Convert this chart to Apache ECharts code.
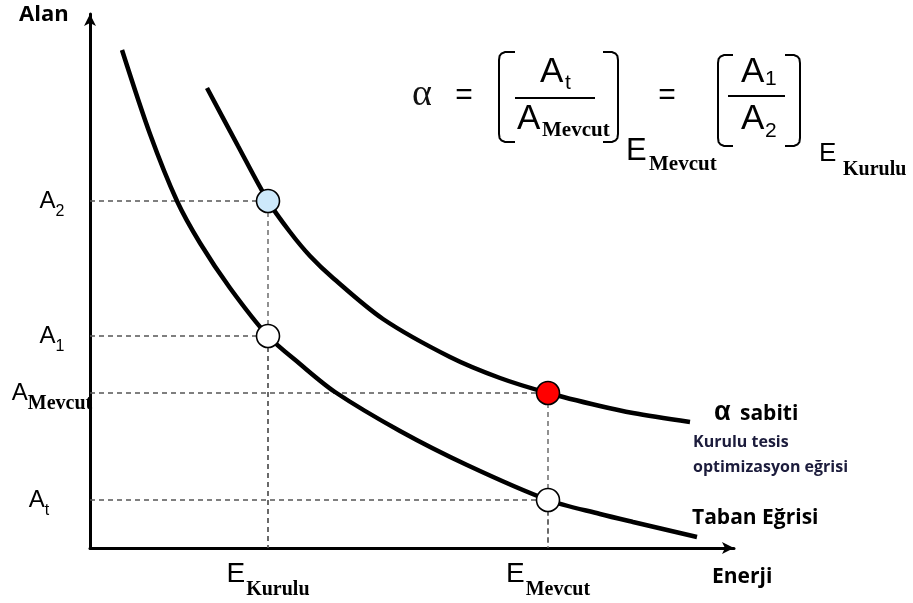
<!DOCTYPE html>
<html><head><meta charset="utf-8">
<script src="https://cdn.jsdelivr.net/npm/echarts@6/dist/echarts.min.js"></script>
<style>html,body{margin:0;padding:0;background:#fff}#c{width:913px;height:603px}</style>
</head><body><div id="c"></div>
<script>
// ---- data (in axis units) ----
const upperX = [117,148,178,200,220,243,293,360,410,458,510,543,600];
const upperY = [460,402,347,316,292,270,229,191,170,155,142,135,126];
const lowerX = [32,60,87,110,140,178,210,245,310,377,458,510,543,607];
const lowerY = [498,414,347,305,260,212,184,156,117,83,48,34,26,11];
const pointX = [178,178,458,458];
const pointY = [347,212,155,48];
const xTickValues = [178,458];
const xTickMain = ['E','E'];
const xTickSub = ['Kurulu','Mevcut'];
const yTickValues = [347,212,155,48];
const yTickMain = ['A','A','A','A'];
const yTickSub = ['2','1','Mevcut','t'];

// ---- styles ----
const pointFill = ['#cde9fb','#ffffff','#ff0000','#ffffff'];
const SANS = '"Liberation Sans", Arial, sans-serif';
const SERIF = '"Liberation Serif", "Times New Roman", serif';
const UI = '"Open Sans", "Noto Sans", sans-serif';

const zip = (a,b) => a.map((v,i)=>[v,b[i]]);
const guideSeries = pointX.map((x,i)=>({
  type:'line', silent:true, symbol:'none', z:1,
  data:[[0,pointY[i]],[x,pointY[i]],[x,0]],
  lineStyle:{color:'#555', width:1.3, type:[5,4]}
}));

function bracket(xv, xa, y1, y2){
  const d = xa > xv ? 1 : -1;
  return {type:'polyline',shape:{points:[
    [xa,y1],[xv+d*6,y1],[xv+d*2.5,y1+1.5],[xv+d*0.6,y1+4],[xv,y1+8],
    [xv,y2-8],[xv+d*0.6,y2-4],[xv+d*2.5,y2-1.5],[xv+d*6,y2],[xa,y2]]},
    style:{stroke:'#000',lineWidth:2,fill:null}};
}

const yRichKey = ['s','s','m','t'];
const chart = echarts.init(document.getElementById('c'), null, {renderer:'canvas'});
chart.setOption({
  animation:false,
  backgroundColor:'#fff',
  grid:{left:90,right:179,top:14,bottom:55,containLabel:false,outerBoundsMode:'none'},
  xAxis:{type:'value',min:0,max:644,
    axisLine:{show:true,symbol:['none','arrow'],symbolSize:[9,12],lineStyle:{color:'#000',width:3}},
    axisTick:{show:false},splitLine:{show:false},
    axisLabel:{show:true,customValues:xTickValues,margin:12,
      formatter:(v)=>{const i=xTickValues.indexOf(v);return '{e|'+xTickMain[i]+'}{s|'+xTickSub[i]+'}';},
      rich:{e:{fontFamily:SANS,fontSize:28,color:'#000',lineHeight:30,verticalAlign:'top'},
            s:{fontFamily:SERIF,fontWeight:'bold',fontSize:20,color:'#000',lineHeight:20,verticalAlign:'bottom',padding:[0,0,-10,1]}}}
  },
  yAxis:{type:'value',min:0,max:534,
    axisLine:{show:true,symbol:['none','arrow'],symbolSize:[9,12],lineStyle:{color:'#000',width:3}},
    axisTick:{show:false},splitLine:{show:false},
    axisLabel:{show:true,customValues:yTickValues,margin:38,align:'center',
      formatter:(v)=>{const i=yTickValues.indexOf(v);return '{a|'+yTickMain[i]+'}{'+yRichKey[i]+'|'+yTickSub[i]+'}';},
      rich:{a:{fontFamily:SANS,fontSize:24,color:'#000',lineHeight:26},
            s:{fontFamily:SANS,fontSize:16,color:'#000',lineHeight:16,verticalAlign:'bottom',padding:[0,0,-6,0]},
            t:{fontFamily:SANS,fontSize:16,color:'#000',lineHeight:16,verticalAlign:'bottom',padding:[0,26,-6,0]},
            m:{fontFamily:SERIF,fontWeight:'bold',fontSize:20,color:'#000',lineHeight:20,verticalAlign:'bottom',padding:[0,0,-8,0]}}}
  },
  series:[
    ...guideSeries,
    {type:'line',name:'alpha',data:zip(upperX,upperY),smooth:0.3,symbol:'none',z:2,
     lineStyle:{color:'#000',width:4.5,cap:'butt'}},
    {type:'line',name:'taban',data:zip(lowerX,lowerY),smooth:0.3,symbol:'none',z:2,
     lineStyle:{color:'#000',width:4.5,cap:'butt'}},
    {type:'scatter',z:3,symbolSize:23,
     data:pointX.map((x,i)=>({value:[x,pointY[i]],itemStyle:{color:pointFill[i],opacity:1,borderColor:'#000',borderWidth:1.6}}))}
  ],
  graphic:[
    {type:'text',style:{text:'Alan',x:19,y:15,fill:'#000',font:'bold 22px '+UI,verticalAlign:'middle'}},
    {type:'text',style:{text:'Enerji',x:712,y:577,fill:'#000',font:'bold 21px '+UI,verticalAlign:'middle'}},
    {type:'text',style:{text:'α',x:714,y:413,fill:'#000',font:'bold 27px '+SANS,verticalAlign:'middle'}},
    {type:'text',style:{text:'sabiti',x:740,y:414,fill:'#000',font:'bold 21px '+UI,verticalAlign:'middle'}},
    {type:'text',style:{text:'Kurulu tesis',x:693,y:442,fill:'#1c1c3c',font:'bold 16px '+UI,verticalAlign:'middle'}},
    {type:'text',style:{text:'optimizasyon eğrisi',x:693,y:467,fill:'#1c1c3c',font:'bold 16px '+UI,verticalAlign:'middle'}},
    {type:'text',style:{text:'Taban Eğrisi',x:692,y:518,fill:'#000',font:'bold 21px '+UI,verticalAlign:'middle'}},
    // formula
    {type:'text',style:{text:'α',x:422,y:95,fill:'#111',font:'38px '+SERIF,align:'center',verticalAlign:'middle'}},
    {type:'text',style:{text:'=',x:464,y:96,fill:'#000',font:'30px '+SANS,align:'center',verticalAlign:'middle'}},
    {type:'text',style:{text:'A',x:540,y:72,fill:'#000',font:'35px '+SANS,verticalAlign:'middle'}},
    {type:'text',style:{text:'t',x:565,y:83,fill:'#000',font:'21px '+SANS,verticalAlign:'middle'}},
    {type:'line',shape:{x1:515,y1:98,x2:595,y2:98},style:{stroke:'#000',lineWidth:2}},
    {type:'text',style:{text:'A',x:517,y:119,fill:'#000',font:'35px '+SANS,verticalAlign:'middle'}},
    {type:'text',style:{text:'Mevcut',x:542,y:131,fill:'#000',font:'bold 21px '+SERIF,verticalAlign:'middle'}},
    bracket(499,515,52,142),
    bracket(618,603,52,142),
    {type:'text',style:{text:'E',x:626,y:151,fill:'#000',font:'31px '+SANS,verticalAlign:'middle'}},
    {type:'text',style:{text:'Mevcut',x:649,y:165,fill:'#000',font:'bold 21px '+SERIF,verticalAlign:'middle'}},
    {type:'text',style:{text:'=',x:667,y:96,fill:'#000',font:'30px '+SANS,align:'center',verticalAlign:'middle'}},
    bracket(718,733,55,146),
    bracket(800,785,55,146),
    {type:'text',style:{text:'A',x:741,y:72,fill:'#000',font:'35px '+SANS,verticalAlign:'middle'}},
    {type:'text',style:{text:'1',x:765,y:79,fill:'#000',font:'21px '+SANS,verticalAlign:'middle'}},
    {type:'line',shape:{x1:728,y1:96,x2:785,y2:96},style:{stroke:'#000',lineWidth:2}},
    {type:'text',style:{text:'A',x:741,y:119,fill:'#000',font:'35px '+SANS,verticalAlign:'middle'}},
    {type:'text',style:{text:'2',x:765,y:131,fill:'#000',font:'21px '+SANS,verticalAlign:'middle'}},
    {type:'text',style:{text:'E',x:819,y:154,fill:'#000',font:'26px '+SANS,verticalAlign:'middle'}},
    {type:'text',style:{text:'Kurulu',x:843,y:170,fill:'#000',font:'bold 20px '+SERIF,verticalAlign:'middle'}}
  ]
});
</script></body></html>
